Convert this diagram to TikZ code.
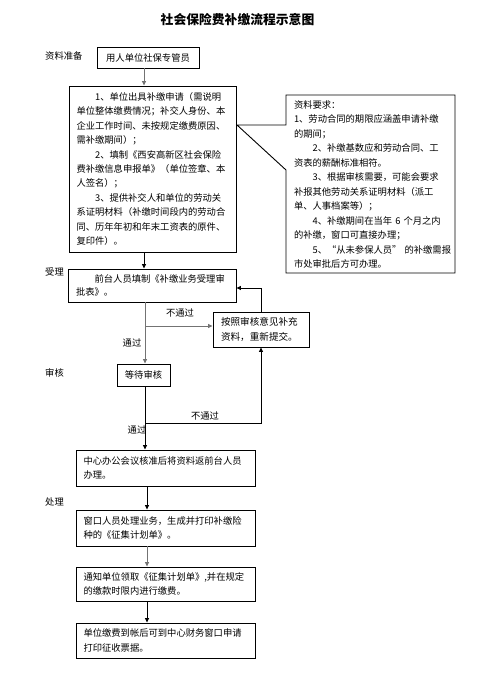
\documentclass[tikz,border=0pt]{standalone}
\usepackage{fontspec}
\setmainfont{Noto Sans CJK SC}
\usetikzlibrary{arrows.meta}
\newcommand{\fsz}{\fontsize{9.3}{14.4}\selectfont}
\newcommand{\ind}{\hspace*{2em}}
\begin{document}
\begin{tikzpicture}[x=1pt,y=-1pt,
  box/.style={draw, line width=0.9pt, inner sep=0pt, align=left, font=\fsz},
  lab/.style={inner sep=0pt, font=\fsz},
  conn/.style={line width=0.8pt, -{Triangle[length=4.5pt,width=4pt]}},
  gconn/.style={conn, draw=black!55}]
\useasboundingbox (0,0) rectangle (496,676);
% title
\node[inner sep=0pt, font=\fontsize{12.8}{15}\selectfont\bfseries] (title) at (237.5,20) {社会保险费补缴流程示意图};
% side labels
\node[lab, anchor=west] (l1) at (45,56) {资料准备};
\node[lab, anchor=west] (l2) at (45,272) {受理};
\node[lab, anchor=west] (l3) at (45,373) {审核};
\node[lab, anchor=west] (l4) at (45,502) {处理};
% boxes
\node[box, align=center, minimum width=102, minimum height=21] (emp) at (148,57.5) {用人单位社保专管员};
\node[box, minimum width=167, minimum height=166, text width=152] (app) at (152.5,169) {%
\ind 1、单位出具补缴申请（需说明\\
单位整体缴费情况；补交人身份、本\\
企业工作时间、未按规定缴费原因、\\
需补缴期间）；\\
\ind 2、填制《西安高新区社会保险\\
费补缴信息申报单》（单位签章、本\\
人签名）；\\
\ind 3、提供补交人和单位的劳动关\\
系证明材料（补缴时间段内的劳动合\\
同、历年年初和年末工资表的原件、\\
复印件）。};
% requirements callout
\draw[line width=0.9pt] (286,95) -- (455,95) -- (455,273) -- (286,273) -- (286,170) -- (237,125) -- (286,125) -- cycle;
\node[lab, align=left, text width=160, font=\fontsize{9.3}{14.5}\selectfont] (req) at (374,184.5) {%
资料要求：\\
1、劳动合同的期限应涵盖申请补缴\\
的期间；\\
\ind 2、补缴基数应和劳动合同、工\\
资表的薪酬标准相符。\\
\ind 3、根据审核需要，可能会要求\\
补报其他劳动关系证明材料（派工\\
单、人事档案等）；\\
\ind 4、补缴期间在当年~6~个月之内\\
的补缴，窗口可直接办理；\\
\ind 5、“从未参保人员”~的补缴需报\\
市处审批后方可办理。};
\node[box, minimum width=168, minimum height=33, text width=152, font=\fontsize{9.3}{12.8}\selectfont] (acc) at (152,285.5) {%
\ind 前台人员填制《补缴业务受理审\\
批表》。};
\node[box, minimum width=96, minimum height=35, text width=80, font=\fontsize{9.6}{15}\selectfont] (sup) at (261,329.5) {%
按照审核意见补充\\
资料，重新提交。};
\node[box, align=center, minimum width=53, minimum height=22] (wait) at (143.5,375) {等待审核};
\node[box, minimum width=179, minimum height=36, text width=164] (meet) at (165.5,468) {%
中心办公会议核准后将资料返前台人员\\
办理。};
\node[box, minimum width=179, minimum height=36, text width=164] (proc) at (165.5,528) {%
窗口人员处理业务，生成并打印补缴险\\
种的《征集计划单》。};
\node[box, minimum width=179, minimum height=34, text width=164] (noti) at (165.5,584) {%
通知单位领取《征集计划单》,并在规定\\
的缴款时限内进行缴费。};
\node[box, minimum width=179, minimum height=35, text width=164] (pay) at (165.5,640.5) {%
单位缴费到帐后可到中心财务窗口申请\\
打印征收票据。};
% spine coordinates
\coordinate (s1) at (144,0);
\coordinate (s2) at (145,0);
\coordinate (s3) at (147,0);
\coordinate (j1) at (145,326);
\coordinate (j2) at (145,423);
\coordinate (r1) at (261,288);
\coordinate (r2) at (261,423);
% connectors
\draw[gconn] (emp.south -| s1) -- (app.north -| s1);
\draw[conn] (app.south -| s1) -- (acc.north -| s1);
\draw[gconn] (acc.south -| s2) -- (wait.north -| s2);
\draw[gconn] (j1) -- (j1 -| sup.west);
\draw[conn] (sup.north -| r1) -- (r1) -- (r1 -| acc.east);
\draw[conn] (wait.south -| s2) -- (meet.north -| s2);
\draw[conn] (j2) -- (r2) -- (sup.south -| r2);
\draw[conn] (meet.south -| s3) -- (proc.north -| s3);
\draw[gconn] (proc.south -| s3) -- (noti.north -| s3);
\draw[conn] (noti.south -| s3) -- (pay.north -| s3);
% connector labels
\node[lab] (n1) at (180,313) {不通过};
\node[lab] (p1) at (132,343) {通过};
\node[lab] (n2) at (205,416) {不通过};
\node[lab] (p2) at (137,430) {通过};
\end{tikzpicture}
\end{document}
